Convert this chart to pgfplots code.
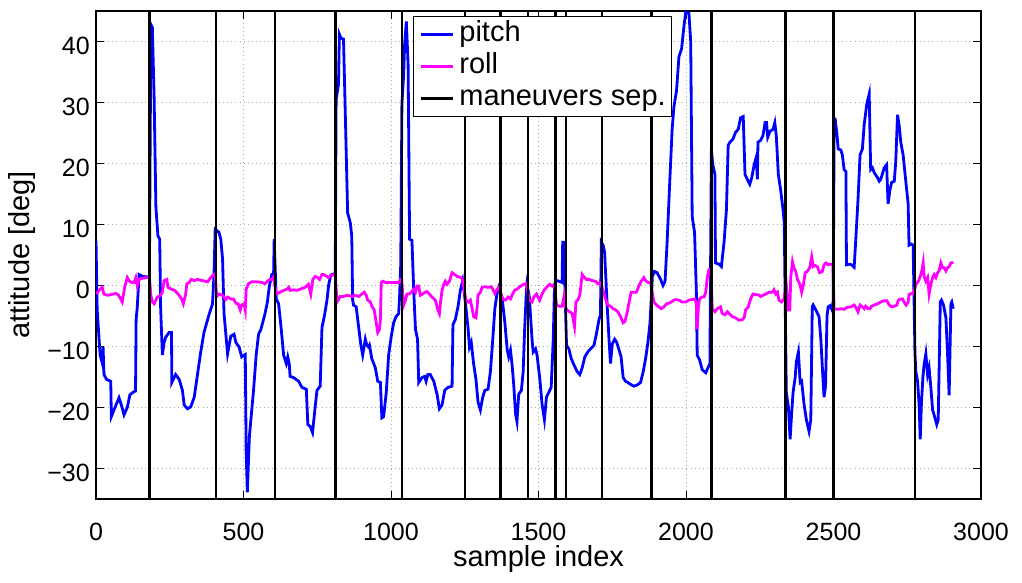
\documentclass[border=0pt]{standalone}
\usepackage{fontspec}
\setmainfont{Liberation Sans}
\usepackage{pgfplots}
\pgfplotsset{compat=1.18}

\definecolor{pitchblue}{RGB}{0,0,255}
\definecolor{rollmag}{RGB}{255,0,255}

\begin{document}
\begin{tikzpicture}
\path[use as bounding box] (-96pt,-83pt) rectangle (926pt,499pt);
\begin{axis}[
  at={(0,0)}, anchor=south west,
  scale only axis, width=885pt, height=488pt,
  xmin=0, xmax=3000, ymin=-35, ymax=45,
  xtick={0,500,1000,1500,2000,2500,3000},
  xticklabels={0,500,1000,1500,2000,2500,3000},
  ytick={-30,-20,-10,0,10,20,30,40},
  yticklabels={−30,−20,−10,0,10,20,30,40},
  tick align=inside, tick pos=both,
  major tick length=8pt,
  every tick/.style={black, line width=0.9pt},
  axis line style={black, line width=1.3pt},
  grid=major,
  major grid style={gray!65, line width=0.9pt, dash pattern=on 0.9pt off 3.2pt},
  ticklabel style={font=\fontsize{25}{30}\selectfont, inner sep=0pt},
  xticklabel style={anchor=north, yshift=-24pt},
  yticklabel style={anchor=east, xshift=-6pt, yshift=-4pt},
  xlabel={sample index},
  ylabel={attitude [deg]},
  label style={font=\fontsize{29}{34}\selectfont, inner sep=0pt},
  xlabel style={at={(axis description cs:0.5,-0.1393)}, anchor=base},
  ylabel style={at={(axis description cs:-0.0746,0.5)}, anchor=base, rotate=0},
  unbounded coords=jump,
  legend style={at={(0.3582,0.9898)}, anchor=north west,
    draw=black, line width=1.2pt, fill=white,
    font=\fontsize{29}{34}\selectfont,
    inner xsep=6pt, inner ysep=4pt, row sep=4pt, column sep=5pt,
    nodes={inner sep=0pt, text height=21pt, text depth=7pt}},
  legend cell align=left,
  legend image code/.code={\draw[#1] (0pt,0pt) -- (32pt,0pt);},
]

% pitch angle
\addplot[pitchblue, line width=2.8pt] coordinates {
(0,7.4) (4,-4.0) (14,-11.4) (20,-12.5) (24,-10.1) (27,-14.6) (36,-15.4) (50,-15.7)
(52,-21.5) (61,-20.4) (78,-18.4) (86,-19.6) (95,-21.2) (106,-20.0) (115,-17.9)
(129,-17.4) (134,-17.3) (136,-5.6) (140,-3.5) (146,1.8) (157,1.5) (176,1.4) (181,1.4)
(186,42.8) (191,42.3) (197,30.9) (203,12.9) (210,8.1) (216,7.6) (219,-3.5) (225,-11.4)
(231,-9.3) (236,-8.5) (248,-7.7) (256,-7.7) (257,-15.9) (270,-14.6) (282,-15.4)
(293,-17.2) (299,-19.6) (310,-20.2) (321,-19.9) (333,-18.3) (344,-14.6) (355,-10.9)
(366,-7.7) (383,-4.8) (395,-3.0) (400,1.8) (404,9.2)
(417,8.7) (423,7.6) (429,4.4) (434,-4.6) (446,-11.2) (457,-8.3) (468,-8.0) (474,-9.3)
(485,-10.1) (494,-11.7) (502,-11.4) (506,-11.3) (509,-27.3) (513,-33.9) (520,-24.7)
(534,-17.2) (543,-11.4) (551,-8.0) (559,-7.2) (566,-5.9) (573,-4.6) (581,-2.7)
(588,0.0) (596,1.8) (602,1.8) (604,7.6)
(611,-2.2) (619,-3.0) (627,-6.7) (636,-11.4) (645,-12.8) (650,-11.7) (655,-12.8)
(658,-14.9) (670,-15.1) (687,-15.7) (698,-16.7) (713,-17.0) (718,-22.8) (726,-23.1)
(734,-24.1) (743,-19.9) (749,-17.2) (760,-16.5) (766,-6.9) (775,-4.8) (783,-2.4)
(789,0.2) (796,1.7) (805,1.9) (811,1.9)
(814,30.4) (822,33.0) (825,41.2) (831,40.5) (839,40.4) (845,28.3) (853,11.9)
(862,10.3) (867,8.1) (870,-2.4) (873,-3.2) (882,-3.5) (890,-6.7) (898,-9.8)
(904,-11.4) (913,-8.8) (918,-9.8) (924,-10.1) (927,-9.8) (935,-12.0) (947,-13.5)
(955,-15.7) (964,-15.9) (969,-21.7) (975,-21.5) (984,-17.5) (992,-11.4) (1001,-8.3)
(1009,-6.1) (1017,-5.1) (1026,-4.6) (1029,-1.9) (1033,3.4)
(1037,29.8) (1043,34.6) (1046,39.4) (1052,43.3) (1058,36.2) (1063,7.6) (1071,7.4)
(1077,-0.8) (1083,-7.2) (1090,-8.8) (1094,-15.9) (1105,-15.1) (1114,-14.9)
(1119,-15.7) (1125,-14.6) (1133,-14.6) (1145,-15.7) (1156,-17.8) (1164,-20.2)
(1173,-19.6) (1182,-17.2) (1193,-16.7) (1207,-16.5) (1210,-6.4) (1218,-5.6)
(1227,-3.5) (1235,-0.8) (1243,0.8)
(1252,-2.7) (1261,-6.9) (1266,-10.1) (1272,-9.3) (1280,-12.8) (1288,-15.4)
(1295,-19.1) (1303,-20.4) (1311,-18.3) (1318,-17.2) (1329,-17.0) (1337,-14.1)
(1345,-8.8) (1352,-3.8) (1360,-1.1) (1365,-0.3)
(1377,-2.2) (1386,-6.1) (1394,-10.6) (1399,-11.7) (1405,-10.6) (1410,-12.8)
(1416,-16.2) (1422,-21.0) (1427,-22.3) (1433,-17.8) (1442,-17.2) (1448,-14.1)
(1453,-7.2) (1459,-0.8) (1461,0.2)
(1469,-1.9) (1478,-8.8) (1482,-10.9) (1490,-10.4) (1495,-11.4) (1504,-15.1)
(1512,-19.4) (1520,-22.0) (1527,-18.3) (1535,-17.5) (1543,-16.7) (1550,-8.8)
(1554,-0.8) (1558,0.7)
(1563,0.8) (1580,0.5) (1582,7.1) (1588,7.1) (1589,0.8)
(1595,-9.8) (1603,-10.4) (1611,-12.0) (1620,-13.0) (1631,-14.1) (1640,-14.6)
(1648,-13.5) (1657,-11.7) (1667,-10.9) (1676,-10.4) (1688,-9.8) (1696,-8.0)
(1705,-5.6) (1710,-4.8) (1713,7.1)
(1719,6.6) (1724,5.5) (1733,-3.5) (1739,-8.8) (1744,-12.8) (1750,-9.6) (1758,-8.8)
(1765,-9.3) (1772,-10.4) (1780,-11.7) (1787,-15.1) (1795,-15.7) (1803,-15.9)
(1812,-16.2) (1823,-16.5) (1835,-16.3) (1846,-15.9) (1855,-14.1) (1863,-12.0)
(1871,-9.3) (1878,-6.1) (1882,-2.4)
(1886,1.5) (1893,2.3) (1902,2.1) (1914,1.0) (1922,0.0) (1929,0.7) (1936,7.1)
(1945,17.1) (1953,25.6) (1959,29.3) (1968,32.0) (1976,37.5) (1985,38.8) (1993,42.5)
(1999,44.8) (2010,44.6) (2016,39.9) (2021,11.3) (2029,8.7) (2035,-0.8) (2038,-11.4)
(2046,-12.2) (2055,-13.8) (2067,-14.3) (2076,-13.3) (2081,-12.8)
(2086,22.2) (2091,19.8) (2098,18.2) (2100,3.7) (2112,3.5) (2120,3.1) (2129,7.1)
(2137,12.4) (2143,23.0) (2149,23.5) (2159,24.0) (2168,25.1) (2177,25.6) (2185,27.5)
(2194,27.7) (2200,18.2) (2208,17.4) (2216,16.6) (2223,17.7) (2231,19.8) (2238,21.0)
(2242,17.4) (2244,23.5) (2253,23.8) (2261,24.6) (2268,26.7) (2273,26.7) (2277,24.3)
(2285,25.3) (2295,25.6) (2301,26.7) (2306,24.6) (2313,18.2) (2321,15.6) (2329,12.4)
(2333,10.3)
(2340,-17.5) (2347,-19.9) (2353,-25.2) (2358,-21.0) (2363,-17.5) (2370,-15.1)
(2374,-12.5) (2381,-10.9) (2387,-15.9) (2392,-15.7) (2400,-19.4) (2408,-22.0)
(2417,-23.9) (2423,-22.0) (2428,-3.5) (2431,-3.2) (2440,-4.0) (2451,-5.1)
(2457,-8.8) (2464,-15.0) (2468,-18.3) (2473,-16.5) (2478,-5.0) (2482,-3.5)
(2488,-3.3) (2495,-4.0) (2499,-2.5)
(2502,24.6) (2505,27.5) (2511,25.1) (2516,22.4) (2525,22.2) (2530,21.4) (2536,19.0)
(2542,18.7) (2544,3.4) (2553,3.5) (2561,3.4) (2570,3.0) (2575,7.1) (2583,14.0)
(2590,21.4) (2598,22.4) (2604,26.4) (2613,29.8) (2621,31.4) (2626,19.0) (2632,19.3)
(2638,18.5) (2649,17.7) (2655,17.1) (2660,17.4) (2672,19.3) (2680,19.8) (2685,13.4)
(2691,15.6) (2697,16.9) (2706,17.1) (2711,20.3) (2717,28.0) (2723,26.1) (2728,23.5)
(2736,21.4) (2745,17.1) (2753,13.4) (2756,6.6) (2764,6.8) (2770,6.6)
(2776,-10.9) (2779,-14.1) (2785,-15.7) (2790,-19.4) (2794,-25.2) (2798,-19.4)
(2803,-15.1) (2807,-13.0) (2813,-11.2) (2819,-14.6) (2824,-13.5) (2830,-16.7)
(2836,-20.4) (2841,-21.2) (2850,-22.8) (2855,-22.0) (2862,-2.7) (2866,-2.4)
(2873,-3.2) (2881,-5.3) (2886,-10.4) (2892,-18.0) (2898,-3.0) (2901,-2.7) (2906,-3.8)
};
\addlegendentry{pitch}

% roll angle
\addplot[rollmag, line width=2.8pt] coordinates {
(2,-1.4) (10,-0.8) (21,-0.3) (27,-1.4) (38,-1.6) (50,-1.5) (59,-1.4) (67,-1.3)
(75,-1.5) (84,-2.2) (89,-2.7) (97,-0.3) (106,1.3) (112,0.8) (120,0.5) (129,0.5)
(135,1.3) (140,-0.1) (146,1.0) (157,1.2) (174,1.3) (181,1.3)
(186,-1.6) (191,-2.7) (197,-3.0) (208,-1.9) (219,-1.6) (225,-1.1) (231,0.8)
(240,1.0) (244,-0.3) (256,-0.6) (267,-0.8) (282,-1.6) (290,-2.2) (296,-3.0)
(304,-1.4) (308,0.3) (316,0.5) (323,1.0) (333,0.8) (344,1.0) (361,0.8) (378,0.6)
(389,1.3) (398,1.8) (404,1.9)
(409,-1.8) (417,-1.4) (429,-1.6) (440,-2.3) (446,-1.9) (457,-2.2) (466,-2.2)
(474,-2.9) (482,-3.0) (489,-4.0) (494,-3.2) (502,-3.0) (506,-4.0) (509,-0.6)
(517,0.3) (528,0.6) (545,0.6) (562,0.5) (573,0.3) (581,0.7) (590,1.0) (596,1.0)
(602,1.4)
(611,-1.4) (624,-1.1) (636,-0.8) (647,-0.6) (653,-0.3) (658,-0.8) (670,-0.7)
(681,-0.8) (692,-0.6) (709,-0.3) (720,0.2) (728,-1.4) (735,1.0) (743,1.5) (751,1.3)
(758,1.0) (766,1.8) (771,1.8) (783,1.5) (788,1.3) (794,1.5) (805,1.8) (811,1.8)
(817,-2.7) (828,-1.8) (839,-1.8) (851,-1.6) (868,-1.8) (879,-1.6) (890,-1.8)
(901,-1.4) (909,-1.1) (916,-1.6) (921,-2.4) (930,-2.7) (935,-3.4) (943,-4.0)
(950,-6.1) (955,-7.7) (961,-7.2) (964,-5.6) (967,0.5) (973,0.7) (981,0.5) (998,0.5)
(1015,0.5) (1026,0.5) (1032,1.0) (1036,1.0)
(1043,-3.2) (1049,-2.4) (1054,-1.4) (1062,-1.4) (1069,-1.1) (1077,-0.6) (1083,-1.1)
(1088,-0.1) (1094,-0.1) (1099,-1.6) (1107,-1.4) (1116,-1.1) (1122,-1.0) (1130,-1.4)
(1139,-1.9) (1150,-2.4) (1159,-4.0) (1164,-4.6) (1168,-2.7) (1173,-0.8) (1179,0.2)
(1184,0.7) (1190,0.2) (1198,0.7) (1207,2.1) (1216,1.8) (1224,1.5) (1232,1.4)
(1241,1.2)
(1254,-2.4) (1263,-2.7) (1269,-2.4) (1275,-3.8) (1280,-5.1) (1288,-5.3) (1292,-3.5)
(1295,-1.6) (1303,-1.1) (1309,-0.3) (1318,-0.2) (1329,-0.3) (1340,-0.2) (1345,-0.6)
(1352,-1.3) (1360,-0.6) (1365,-0.3)
(1379,-2.2) (1388,-2.4) (1397,-1.9) (1405,-2.2) (1410,-1.6) (1419,-0.8) (1427,-0.6)
(1439,-0.1) (1450,0.2) (1458,0.3)
(1469,-2.4) (1478,-2.7) (1484,-1.9) (1493,-1.4) (1498,-1.9) (1504,-2.4) (1512,-1.4)
(1520,-0.7) (1529,-0.2) (1538,0.2) (1546,-0.1) (1554,0.2)
(1561,-3.2) (1569,-3.4) (1580,-3.4) (1586,-1.9) (1588,-3.2)
(1597,-4.1) (1606,-4.3) (1614,-4.6) (1622,-6.7) (1627,-2.7) (1633,-2.4) (1640,-1.6)
(1648,1.8) (1654,1.4) (1663,1.0) (1671,1.0) (1682,0.8) (1693,0.7) (1701,0.3)
(1710,0.5)
(1719,-0.8) (1727,-2.2) (1735,-3.2) (1744,-3.4) (1753,-3.8) (1761,-4.0) (1769,-4.3)
(1778,-5.1) (1787,-6.1) (1793,-5.9) (1801,-4.3) (1806,-3.0) (1814,-1.1) (1823,-1.1)
(1832,-1.1) (1840,-0.1) (1848,0.7) (1857,1.3) (1863,0.8) (1871,0.5) (1880,0.5)
(1891,-2.7) (1900,-3.2) (1908,-3.5) (1916,-3.8) (1925,-3.5) (1934,-3.0) (1942,-2.9)
(1950,-2.7) (1959,-2.4) (1965,-2.3) (1976,-2.4) (1987,-2.7) (1999,-2.7) (2010,-2.4)
(2021,-2.3) (2030,-2.2) (2035,-3.0) (2038,-7.2) (2042,-3.5) (2046,-2.2) (2053,-1.9)
(2061,-1.9) (2067,-1.1) (2072,1.3) (2078,2.6) (2084,2.6)
(2089,-3.8) (2098,-4.3) (2106,-3.8) (2117,-3.5) (2123,-4.6) (2132,-4.8) (2140,-4.3)
(2146,-4.6) (2157,-5.1) (2168,-5.3) (2180,-5.7) (2191,-5.6) (2197,-5.3) (2202,-4.0)
(2211,-3.5) (2219,-2.2) (2227,-1.4) (2236,-1.5) (2245,-1.5) (2253,-1.8) (2261,-1.6)
(2270,-1.4) (2281,-1.1) (2293,-1.1) (2298,-0.7) (2304,-1.4) (2310,-1.1) (2315,-2.4)
(2324,-2.7) (2332,-2.2)
(2340,0.2) (2347,-4.0) (2352,-4.0) (2355,1.3) (2361,3.9) (2366,2.9) (2372,2.3)
(2378,1.0) (2386,0.2) (2392,-1.1) (2397,-0.1) (2404,2.1) (2411,2.3) (2419,2.9)
(2426,4.7) (2431,3.1) (2437,3.3) (2445,3.1) (2453,2.1) (2462,2.3) (2468,3.4)
(2474,3.7) (2482,3.4) (2491,3.5) (2498,3.5)
(2502,-3.8) (2513,-3.9) (2525,-3.8) (2536,-3.9) (2545,-3.6) (2559,-3.5) (2570,-3.2)
(2575,-3.5) (2583,-4.3) (2590,-3.2) (2598,-3.5) (2604,-3.8) (2609,-3.4) (2617,-3.8)
(2624,-3.8) (2629,-3.4) (2638,-3.2) (2649,-3.0) (2660,-2.7) (2672,-2.5) (2681,-2.5)
(2689,-3.2) (2697,-3.5) (2706,-3.4) (2715,-3.2) (2719,-2.5) (2723,-2.3) (2728,-2.2)
(2734,-2.2) (2739,-2.7) (2746,-3.2) (2753,-2.7) (2756,-1.5) (2764,-1.3) (2770,-1.3)
(2781,0.3) (2788,0.7) (2794,1.5) (2799,2.3) (2804,3.7) (2807,1.5) (2813,0.7)
(2819,1.3) (2824,-1.4) (2830,0.2) (2836,1.3) (2841,1.8) (2847,1.3) (2853,2.1)
(2858,2.4) (2864,3.7) (2870,2.9) (2875,2.9) (2881,2.4) (2886,2.9) (2892,3.1)
(2898,3.7) (2906,3.8)
};
\addlegendentry{roll}

% maneuver separators
\addplot[black, line width=2.4pt] coordinates {
(181,-35) (181,45) (181,nan)
(407,-35) (407,45) (407,nan)
(606,-35) (606,45) (606,nan)
(812,-35) (812,45) (812,nan)
(1037,-35) (1037,45) (1037,nan)
(1250,-35) (1250,45) (1250,nan)
(1371,-35) (1371,45) (1371,nan)
(1465,-35) (1465,45) (1465,nan)
(1557,-35) (1557,45) (1557,nan)
(1594,-35) (1594,45) (1594,nan)
(1715,-35) (1715,45) (1715,nan)
(1883,-35) (1883,45) (1883,nan)
(2086,-35) (2086,45) (2086,nan)
(2337,-35) (2337,45) (2337,nan)
(2500,-35) (2500,45) (2500,nan)
(2776,-35) (2776,45)
};
\addlegendentry{maneuvers sep.}
\end{axis}
\end{tikzpicture}
\end{document}
